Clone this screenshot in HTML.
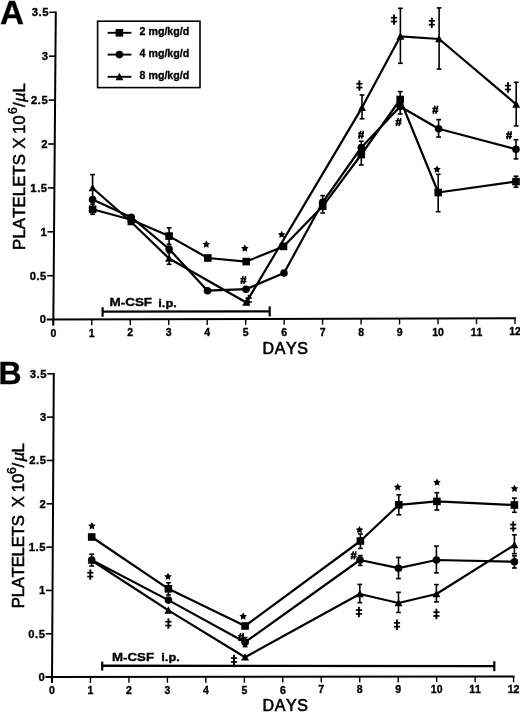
<!DOCTYPE html>
<html><head><meta charset="utf-8"><style>
html,body{margin:0;padding:0;background:#fff;width:520px;height:713px;overflow:hidden;}
svg text{font-family:"Liberation Sans", sans-serif;fill:#000;font-kerning:none;stroke:#000;stroke-width:0.35px;}
svg{filter:grayscale(1);}
</style></head><body>
<svg width="520" height="713" viewBox="0 0 520 713" style="position:absolute;left:0;top:0" font-family='"Liberation Sans", sans-serif'>
<rect width="520" height="713" fill="#fff"/>
<text x="0.1" y="23.7" font-size="33.2" font-weight="bold">A</text>
<line x1="53.3" y1="325.6" x2="55.8" y2="11.4" stroke="#000" stroke-width="2.0"/>
<line x1="46.8" y1="319.6" x2="515.9" y2="318.3" stroke="#000" stroke-width="2.0"/>
<text x="46.50" y="323.40" font-size="11.3" font-weight="bold" letter-spacing="0.5" text-anchor="end">0</text>
<line x1="47.16" y1="275.70" x2="53.66" y2="275.70" stroke="#000" stroke-width="1.6"/>
<text x="46.86" y="279.50" font-size="11.3" font-weight="bold" letter-spacing="0.5" text-anchor="end">0.5</text>
<line x1="47.51" y1="231.80" x2="54.01" y2="231.80" stroke="#000" stroke-width="1.6"/>
<text x="47.21" y="235.60" font-size="11.3" font-weight="bold" letter-spacing="0.5" text-anchor="end">1</text>
<line x1="47.87" y1="187.90" x2="54.37" y2="187.90" stroke="#000" stroke-width="1.6"/>
<text x="47.57" y="191.70" font-size="11.3" font-weight="bold" letter-spacing="0.5" text-anchor="end">1.5</text>
<line x1="48.23" y1="144.00" x2="54.73" y2="144.00" stroke="#000" stroke-width="1.6"/>
<text x="47.93" y="147.80" font-size="11.3" font-weight="bold" letter-spacing="0.5" text-anchor="end">2</text>
<line x1="48.59" y1="100.10" x2="55.09" y2="100.10" stroke="#000" stroke-width="1.6"/>
<text x="48.29" y="103.90" font-size="11.3" font-weight="bold" letter-spacing="0.5" text-anchor="end">2.5</text>
<line x1="48.94" y1="56.20" x2="55.44" y2="56.20" stroke="#000" stroke-width="1.6"/>
<text x="48.64" y="60.00" font-size="11.3" font-weight="bold" letter-spacing="0.5" text-anchor="end">3</text>
<line x1="49.30" y1="12.30" x2="55.80" y2="12.30" stroke="#000" stroke-width="1.6"/>
<text x="49.00" y="16.10" font-size="11.3" font-weight="bold" letter-spacing="0.5" text-anchor="end">3.5</text>
<line x1="53.30" y1="319.60" x2="53.30" y2="325.40" stroke="#000" stroke-width="1.4"/>
<text x="53.30" y="336.70" font-size="10.5" font-weight="bold" text-anchor="middle">0</text>
<line x1="91.77" y1="319.49" x2="91.77" y2="325.29" stroke="#000" stroke-width="1.4"/>
<text x="91.77" y="336.59" font-size="10.5" font-weight="bold" text-anchor="middle">1</text>
<line x1="130.25" y1="319.38" x2="130.25" y2="325.18" stroke="#000" stroke-width="1.4"/>
<text x="130.25" y="336.48" font-size="10.5" font-weight="bold" text-anchor="middle">2</text>
<line x1="168.72" y1="319.28" x2="168.72" y2="325.08" stroke="#000" stroke-width="1.4"/>
<text x="168.72" y="336.38" font-size="10.5" font-weight="bold" text-anchor="middle">3</text>
<line x1="207.20" y1="319.17" x2="207.20" y2="324.97" stroke="#000" stroke-width="1.4"/>
<text x="207.20" y="336.27" font-size="10.5" font-weight="bold" text-anchor="middle">4</text>
<line x1="245.68" y1="319.06" x2="245.68" y2="324.86" stroke="#000" stroke-width="1.4"/>
<text x="245.68" y="336.16" font-size="10.5" font-weight="bold" text-anchor="middle">5</text>
<line x1="284.15" y1="318.95" x2="284.15" y2="324.75" stroke="#000" stroke-width="1.4"/>
<text x="284.15" y="336.05" font-size="10.5" font-weight="bold" text-anchor="middle">6</text>
<line x1="322.62" y1="318.84" x2="322.62" y2="324.64" stroke="#000" stroke-width="1.4"/>
<text x="322.62" y="335.94" font-size="10.5" font-weight="bold" text-anchor="middle">7</text>
<line x1="361.10" y1="318.73" x2="361.10" y2="324.53" stroke="#000" stroke-width="1.4"/>
<text x="361.10" y="335.83" font-size="10.5" font-weight="bold" text-anchor="middle">8</text>
<line x1="399.57" y1="318.62" x2="399.57" y2="324.43" stroke="#000" stroke-width="1.4"/>
<text x="399.57" y="335.72" font-size="10.5" font-weight="bold" text-anchor="middle">9</text>
<line x1="438.05" y1="318.52" x2="438.05" y2="324.32" stroke="#000" stroke-width="1.4"/>
<text x="438.05" y="335.62" font-size="10.5" font-weight="bold" text-anchor="middle">10</text>
<line x1="476.52" y1="318.41" x2="476.52" y2="324.21" stroke="#000" stroke-width="1.4"/>
<text x="476.52" y="335.51" font-size="10.5" font-weight="bold" text-anchor="middle">11</text>
<line x1="515.00" y1="318.30" x2="515.00" y2="324.10" stroke="#000" stroke-width="1.4"/>
<text x="515.00" y="335.40" font-size="10.5" font-weight="bold" text-anchor="middle">12</text>
<text x="285.5" y="353.5" font-size="16" letter-spacing="0.6" text-anchor="middle" style="stroke-width:0.6px">DAYS</text>
<text transform="translate(25.3,0) rotate(-90)" x="-249.90" y="0" font-size="16.8" letter-spacing="0.1" style="stroke-width:0.5px">PLATELETS</text>
<text transform="translate(25.3,0) rotate(-90)" x="-148.80" y="0" font-size="16.8"  style="stroke-width:0.5px">X</text>
<text transform="translate(25.3,0) rotate(-90)" x="-134.00" y="0" font-size="16.8"  style="stroke-width:0.5px">10</text>
<text transform="translate(25.3,0) rotate(-90)" x="-113.90" y="-8.0" font-size="12"  style="stroke-width:0.5px">6</text>
<text transform="translate(25.3,0) rotate(-90)" x="-107.00" y="0" font-size="16.8"  style="stroke-width:0.5px">/</text>
<text transform="translate(25.3,0) rotate(-90)" x="-102.00" y="0" font-size="16.8" font-style="italic" style="stroke-width:0.5px">µ</text>
<text transform="translate(25.3,0) rotate(-90)" x="-92.60" y="0" font-size="16.8"  style="stroke-width:0.5px">L</text>
<rect x="97.6" y="21.2" width="102.4" height="66.4" fill="none" stroke="#000" stroke-width="1.6"/>
<line x1="107.6" y1="32.8" x2="131.4" y2="32.8" stroke="#000" stroke-width="1.9"/>
<rect x="115.60" y="29.00" width="7.6" height="7.6" fill="#000"/>
<text x="139.6" y="35.4" font-size="10.6" font-weight="bold" textLength="49.6" lengthAdjust="spacingAndGlyphs">2 mg/kg/d</text>
<line x1="107.6" y1="54.6" x2="131.4" y2="54.6" stroke="#000" stroke-width="1.9"/>
<circle cx="119.4" cy="54.6" r="3.8" fill="#000"/>
<text x="139.6" y="56.8" font-size="10.6" font-weight="bold" textLength="49.6" lengthAdjust="spacingAndGlyphs">4 mg/kg/d</text>
<line x1="107.6" y1="76.8" x2="131.4" y2="76.8" stroke="#000" stroke-width="1.9"/>
<polygon points="119.4,72.73 115.40,80.13 123.40,80.13" fill="#000"/>
<text x="139.6" y="79.3" font-size="10.6" font-weight="bold" textLength="49.6" lengthAdjust="spacingAndGlyphs">8 mg/kg/d</text>
<line x1="102.6" y1="311.6" x2="269.7" y2="311.4" stroke="#000" stroke-width="2.4"/>
<line x1="102.6" y1="307.2" x2="102.6" y2="316.8" stroke="#000" stroke-width="2.2"/>
<line x1="269.7" y1="306.4" x2="269.7" y2="316.4" stroke="#000" stroke-width="2.2"/>
<text x="109.5" y="306.4" font-size="11.6" font-weight="bold" textLength="42.6" lengthAdjust="spacingAndGlyphs">M-CSF</text>
<text x="158.3" y="306.6" font-size="11.6" font-weight="bold" textLength="18.6" lengthAdjust="spacingAndGlyphs">i.p.</text>
<polyline fill="none" stroke="#000" stroke-width="2.2" stroke-linejoin="round" points="92.6,209.3 131.2,219.8 169.1,236.1 207.8,258 246.2,261.6 283.5,246.4 322.7,206.3 361.3,154.5 400.2,99.5 438.2,192.5 516,181.6"/>
<polyline fill="none" stroke="#000" stroke-width="2.2" stroke-linejoin="round" points="92.6,199.5 131.2,217.2 169.1,249 207.5,290.7 246,289.2 284,273 322.7,202.3 361.3,147.5 400.2,106.5 438.6,128.7 516,149.3"/>
<polyline fill="none" stroke="#000" stroke-width="2.2" stroke-linejoin="round" points="92.6,188 131.2,222 169.1,258.5 246.2,302.5 362.0,107.6 400.4,36.3 439.1,39 516.2,104.3"/>
<line x1="92.6" y1="174.6" x2="92.6" y2="201.4" stroke="#000" stroke-width="1.6"/><line x1="90.19999999999999" y1="174.6" x2="95.0" y2="174.6" stroke="#000" stroke-width="1.6"/><line x1="90.19999999999999" y1="201.4" x2="95.0" y2="201.4" stroke="#000" stroke-width="1.6"/>
<line x1="92.6" y1="204" x2="92.6" y2="214.3" stroke="#000" stroke-width="1.6"/><line x1="90.19999999999999" y1="204" x2="95.0" y2="204" stroke="#000" stroke-width="1.6"/><line x1="90.19999999999999" y1="214.3" x2="95.0" y2="214.3" stroke="#000" stroke-width="1.6"/>
<line x1="169.1" y1="227.8" x2="169.1" y2="244.4" stroke="#000" stroke-width="1.6"/><line x1="166.7" y1="227.8" x2="171.5" y2="227.8" stroke="#000" stroke-width="1.6"/><line x1="166.7" y1="244.4" x2="171.5" y2="244.4" stroke="#000" stroke-width="1.6"/>
<line x1="169.1" y1="252.7" x2="169.1" y2="264.3" stroke="#000" stroke-width="1.6"/><line x1="166.7" y1="252.7" x2="171.5" y2="252.7" stroke="#000" stroke-width="1.6"/><line x1="166.7" y1="264.3" x2="171.5" y2="264.3" stroke="#000" stroke-width="1.6"/>
<line x1="322.7" y1="195.6" x2="322.7" y2="213" stroke="#000" stroke-width="1.6"/><line x1="320.3" y1="195.6" x2="325.09999999999997" y2="195.6" stroke="#000" stroke-width="1.6"/><line x1="320.3" y1="213" x2="325.09999999999997" y2="213" stroke="#000" stroke-width="1.6"/>
<line x1="361.3" y1="141.2" x2="361.3" y2="165" stroke="#000" stroke-width="1.6"/><line x1="358.90000000000003" y1="141.2" x2="363.7" y2="141.2" stroke="#000" stroke-width="1.6"/><line x1="358.90000000000003" y1="165" x2="363.7" y2="165" stroke="#000" stroke-width="1.6"/>
<line x1="362.0" y1="95.0" x2="362.0" y2="118.8" stroke="#000" stroke-width="1.6"/><line x1="359.6" y1="95.0" x2="364.4" y2="95.0" stroke="#000" stroke-width="1.6"/><line x1="359.6" y1="118.8" x2="364.4" y2="118.8" stroke="#000" stroke-width="1.6"/>
<line x1="400.2" y1="91.6" x2="400.2" y2="114" stroke="#000" stroke-width="1.6"/><line x1="397.8" y1="91.6" x2="402.59999999999997" y2="91.6" stroke="#000" stroke-width="1.6"/><line x1="397.8" y1="114" x2="402.59999999999997" y2="114" stroke="#000" stroke-width="1.6"/>
<line x1="400.4" y1="8.3" x2="400.4" y2="63.3" stroke="#000" stroke-width="1.6"/><line x1="398.0" y1="8.3" x2="402.79999999999995" y2="8.3" stroke="#000" stroke-width="1.6"/><line x1="398.0" y1="63.3" x2="402.79999999999995" y2="63.3" stroke="#000" stroke-width="1.6"/>
<line x1="439.1" y1="7.9" x2="439.1" y2="69.1" stroke="#000" stroke-width="1.6"/><line x1="436.70000000000005" y1="7.9" x2="441.5" y2="7.9" stroke="#000" stroke-width="1.6"/><line x1="436.70000000000005" y1="69.1" x2="441.5" y2="69.1" stroke="#000" stroke-width="1.6"/>
<line x1="438.6" y1="119.6" x2="438.6" y2="137" stroke="#000" stroke-width="1.6"/><line x1="436.20000000000005" y1="119.6" x2="441.0" y2="119.6" stroke="#000" stroke-width="1.6"/><line x1="436.20000000000005" y1="137" x2="441.0" y2="137" stroke="#000" stroke-width="1.6"/>
<line x1="438.2" y1="174.3" x2="438.2" y2="211.7" stroke="#000" stroke-width="1.6"/><line x1="435.8" y1="174.3" x2="440.59999999999997" y2="174.3" stroke="#000" stroke-width="1.6"/><line x1="435.8" y1="211.7" x2="440.59999999999997" y2="211.7" stroke="#000" stroke-width="1.6"/>
<line x1="516.2" y1="82.3" x2="516.2" y2="125.9" stroke="#000" stroke-width="1.6"/><line x1="513.8000000000001" y1="82.3" x2="518.6" y2="82.3" stroke="#000" stroke-width="1.6"/><line x1="513.8000000000001" y1="125.9" x2="518.6" y2="125.9" stroke="#000" stroke-width="1.6"/>
<line x1="516" y1="139.7" x2="516" y2="158.9" stroke="#000" stroke-width="1.6"/><line x1="513.6" y1="139.7" x2="518.4" y2="139.7" stroke="#000" stroke-width="1.6"/><line x1="513.6" y1="158.9" x2="518.4" y2="158.9" stroke="#000" stroke-width="1.6"/>
<line x1="516" y1="176.2" x2="516" y2="187.2" stroke="#000" stroke-width="1.6"/><line x1="513.6" y1="176.2" x2="518.4" y2="176.2" stroke="#000" stroke-width="1.6"/><line x1="513.6" y1="187.2" x2="518.4" y2="187.2" stroke="#000" stroke-width="1.6"/>
<rect x="88.80" y="205.50" width="7.6" height="7.6" fill="#000"/>
<rect x="127.40" y="216.00" width="7.6" height="7.6" fill="#000"/>
<rect x="165.30" y="232.30" width="7.6" height="7.6" fill="#000"/>
<rect x="204.00" y="254.20" width="7.6" height="7.6" fill="#000"/>
<rect x="242.40" y="257.80" width="7.6" height="7.6" fill="#000"/>
<rect x="279.70" y="242.60" width="7.6" height="7.6" fill="#000"/>
<rect x="318.90" y="202.50" width="7.6" height="7.6" fill="#000"/>
<rect x="357.50" y="150.70" width="7.6" height="7.6" fill="#000"/>
<rect x="396.40" y="95.70" width="7.6" height="7.6" fill="#000"/>
<rect x="434.40" y="188.70" width="7.6" height="7.6" fill="#000"/>
<rect x="512.20" y="177.80" width="7.6" height="7.6" fill="#000"/>
<circle cx="92.6" cy="199.5" r="3.8" fill="#000"/>
<circle cx="131.2" cy="217.2" r="3.8" fill="#000"/>
<circle cx="169.1" cy="249" r="3.8" fill="#000"/>
<circle cx="207.5" cy="290.7" r="3.8" fill="#000"/>
<circle cx="246" cy="289.2" r="3.8" fill="#000"/>
<circle cx="284" cy="273" r="3.8" fill="#000"/>
<circle cx="322.7" cy="202.3" r="3.8" fill="#000"/>
<circle cx="361.3" cy="147.5" r="3.8" fill="#000"/>
<circle cx="400.2" cy="106.5" r="3.8" fill="#000"/>
<circle cx="438.6" cy="128.7" r="3.8" fill="#000"/>
<circle cx="516" cy="149.3" r="3.8" fill="#000"/>
<polygon points="92.6,183.93 88.60,191.33 96.60,191.33" fill="#000"/>
<polygon points="131.2,217.93 127.20,225.33 135.20,225.33" fill="#000"/>
<polygon points="169.1,254.43 165.10,261.83 173.10,261.83" fill="#000"/>
<polygon points="246.2,298.43 242.20,305.83 250.20,305.83" fill="#000"/>
<polygon points="362.0,103.53 358.00,110.93 366.00,110.93" fill="#000"/>
<polygon points="400.4,32.23 396.40,39.63 404.40,39.63" fill="#000"/>
<polygon points="439.1,34.93 435.10,42.33 443.10,42.33" fill="#000"/>
<polygon points="516.2,100.23 512.20,107.63 520.20,107.63" fill="#000"/>
<polygon points="206.30,240.40 207.50,242.74 210.10,243.16 208.25,245.03 208.65,247.64 206.30,246.45 203.95,247.64 204.35,245.03 202.50,243.16 205.10,242.74" fill="#000"/>
<polygon points="244.80,244.40 246.00,246.74 248.60,247.16 246.75,249.03 247.15,251.64 244.80,250.45 242.45,251.64 242.85,249.03 241.00,247.16 243.60,246.74" fill="#000"/>
<polygon points="281.70,230.70 282.90,233.04 285.50,233.46 283.65,235.33 284.05,237.94 281.70,236.75 279.35,237.94 279.75,235.33 277.90,233.46 280.50,233.04" fill="#000"/>
<polygon points="437.00,165.40 438.20,167.74 440.80,168.16 438.95,170.03 439.35,172.64 437.00,171.45 434.65,172.64 435.05,170.03 433.20,168.16 435.80,167.74" fill="#000"/>
<line x1="243.10" y1="276.00" x2="241.30" y2="284.00" stroke="#000" stroke-width="1.6"/><line x1="245.70" y1="276.00" x2="243.90" y2="284.00" stroke="#000" stroke-width="1.6"/><line x1="240.40" y1="278.70" x2="246.40" y2="278.70" stroke="#000" stroke-width="1.5"/><line x1="240.40" y1="281.50" x2="246.40" y2="281.50" stroke="#000" stroke-width="1.5"/>
<line x1="360.70" y1="130.70" x2="358.90" y2="138.70" stroke="#000" stroke-width="1.6"/><line x1="363.30" y1="130.70" x2="361.50" y2="138.70" stroke="#000" stroke-width="1.6"/><line x1="358.00" y1="133.40" x2="364.00" y2="133.40" stroke="#000" stroke-width="1.5"/><line x1="358.00" y1="136.20" x2="364.00" y2="136.20" stroke="#000" stroke-width="1.5"/>
<line x1="398.20" y1="118.00" x2="396.40" y2="126.00" stroke="#000" stroke-width="1.6"/><line x1="400.80" y1="118.00" x2="399.00" y2="126.00" stroke="#000" stroke-width="1.6"/><line x1="395.50" y1="120.70" x2="401.50" y2="120.70" stroke="#000" stroke-width="1.5"/><line x1="395.50" y1="123.50" x2="401.50" y2="123.50" stroke="#000" stroke-width="1.5"/>
<line x1="435.00" y1="105.80" x2="433.20" y2="113.80" stroke="#000" stroke-width="1.6"/><line x1="437.60" y1="105.80" x2="435.80" y2="113.80" stroke="#000" stroke-width="1.6"/><line x1="432.30" y1="108.50" x2="438.30" y2="108.50" stroke="#000" stroke-width="1.5"/><line x1="432.30" y1="111.30" x2="438.30" y2="111.30" stroke="#000" stroke-width="1.5"/>
<line x1="508.70" y1="131.30" x2="506.90" y2="139.30" stroke="#000" stroke-width="1.6"/><line x1="511.30" y1="131.30" x2="509.50" y2="139.30" stroke="#000" stroke-width="1.6"/><line x1="506.00" y1="134.00" x2="512.00" y2="134.00" stroke="#000" stroke-width="1.5"/><line x1="506.00" y1="136.80" x2="512.00" y2="136.80" stroke="#000" stroke-width="1.5"/>
<line x1="359.4" y1="80.39999999999999" x2="359.4" y2="90.8" stroke="#000" stroke-width="1.9"/><line x1="356.29999999999995" y1="83.73" x2="362.5" y2="83.73" stroke="#000" stroke-width="1.7"/><line x1="356.29999999999995" y1="87.58" x2="362.5" y2="87.58" stroke="#000" stroke-width="1.7"/>
<line x1="394" y1="14.400000000000002" x2="394" y2="24.8" stroke="#000" stroke-width="1.9"/><line x1="390.9" y1="17.73" x2="397.1" y2="17.73" stroke="#000" stroke-width="1.7"/><line x1="390.9" y1="21.58" x2="397.1" y2="21.58" stroke="#000" stroke-width="1.7"/>
<line x1="431.8" y1="17.5" x2="431.8" y2="27.9" stroke="#000" stroke-width="1.9"/><line x1="428.7" y1="20.83" x2="434.90000000000003" y2="20.83" stroke="#000" stroke-width="1.7"/><line x1="428.7" y1="24.68" x2="434.90000000000003" y2="24.68" stroke="#000" stroke-width="1.7"/>
<line x1="508" y1="82.3" x2="508" y2="92.7" stroke="#000" stroke-width="1.9"/><line x1="504.9" y1="85.63" x2="511.1" y2="85.63" stroke="#000" stroke-width="1.7"/><line x1="504.9" y1="89.48" x2="511.1" y2="89.48" stroke="#000" stroke-width="1.7"/>
<line x1="248.6" y1="294.8" x2="248.6" y2="305.2" stroke="#000" stroke-width="1.9"/><line x1="245.5" y1="298.13" x2="251.7" y2="298.13" stroke="#000" stroke-width="1.7"/><line x1="245.5" y1="301.98" x2="251.7" y2="301.98" stroke="#000" stroke-width="1.7"/>
<text x="-1.4" y="384.3" font-size="32" font-weight="bold">B</text>
<line x1="52.0" y1="683.1" x2="53.8" y2="372.90000000000003" stroke="#000" stroke-width="2.0"/>
<line x1="45.5" y1="677.1" x2="514.5" y2="676.4" stroke="#000" stroke-width="2.0"/>
<text x="45.20" y="680.90" font-size="11.3" font-weight="bold" letter-spacing="0.5" text-anchor="end">0</text>
<line x1="45.76" y1="633.77" x2="52.26" y2="633.77" stroke="#000" stroke-width="1.6"/>
<text x="45.46" y="637.57" font-size="11.3" font-weight="bold" letter-spacing="0.5" text-anchor="end">0.5</text>
<line x1="46.01" y1="590.44" x2="52.51" y2="590.44" stroke="#000" stroke-width="1.6"/>
<text x="45.71" y="594.24" font-size="11.3" font-weight="bold" letter-spacing="0.5" text-anchor="end">1</text>
<line x1="46.27" y1="547.11" x2="52.77" y2="547.11" stroke="#000" stroke-width="1.6"/>
<text x="45.97" y="550.91" font-size="11.3" font-weight="bold" letter-spacing="0.5" text-anchor="end">1.5</text>
<line x1="46.53" y1="503.79" x2="53.03" y2="503.79" stroke="#000" stroke-width="1.6"/>
<text x="46.23" y="507.59" font-size="11.3" font-weight="bold" letter-spacing="0.5" text-anchor="end">2</text>
<line x1="46.79" y1="460.46" x2="53.29" y2="460.46" stroke="#000" stroke-width="1.6"/>
<text x="46.49" y="464.26" font-size="11.3" font-weight="bold" letter-spacing="0.5" text-anchor="end">2.5</text>
<line x1="47.04" y1="417.13" x2="53.54" y2="417.13" stroke="#000" stroke-width="1.6"/>
<text x="46.74" y="420.93" font-size="11.3" font-weight="bold" letter-spacing="0.5" text-anchor="end">3</text>
<line x1="47.30" y1="373.80" x2="53.80" y2="373.80" stroke="#000" stroke-width="1.6"/>
<text x="47.00" y="377.60" font-size="11.3" font-weight="bold" letter-spacing="0.5" text-anchor="end">3.5</text>
<line x1="52.00" y1="677.10" x2="52.00" y2="682.90" stroke="#000" stroke-width="1.4"/>
<text x="52.00" y="693.90" font-size="10.5" font-weight="bold" text-anchor="middle">0</text>
<line x1="90.47" y1="677.04" x2="90.47" y2="682.84" stroke="#000" stroke-width="1.4"/>
<text x="90.47" y="693.84" font-size="10.5" font-weight="bold" text-anchor="middle">1</text>
<line x1="128.93" y1="676.98" x2="128.93" y2="682.78" stroke="#000" stroke-width="1.4"/>
<text x="128.93" y="693.78" font-size="10.5" font-weight="bold" text-anchor="middle">2</text>
<line x1="167.40" y1="676.92" x2="167.40" y2="682.72" stroke="#000" stroke-width="1.4"/>
<text x="167.40" y="693.72" font-size="10.5" font-weight="bold" text-anchor="middle">3</text>
<line x1="205.87" y1="676.87" x2="205.87" y2="682.67" stroke="#000" stroke-width="1.4"/>
<text x="205.87" y="693.67" font-size="10.5" font-weight="bold" text-anchor="middle">4</text>
<line x1="244.33" y1="676.81" x2="244.33" y2="682.61" stroke="#000" stroke-width="1.4"/>
<text x="244.33" y="693.61" font-size="10.5" font-weight="bold" text-anchor="middle">5</text>
<line x1="282.80" y1="676.75" x2="282.80" y2="682.55" stroke="#000" stroke-width="1.4"/>
<text x="282.80" y="693.55" font-size="10.5" font-weight="bold" text-anchor="middle">6</text>
<line x1="321.27" y1="676.69" x2="321.27" y2="682.49" stroke="#000" stroke-width="1.4"/>
<text x="321.27" y="693.49" font-size="10.5" font-weight="bold" text-anchor="middle">7</text>
<line x1="359.73" y1="676.63" x2="359.73" y2="682.43" stroke="#000" stroke-width="1.4"/>
<text x="359.73" y="693.43" font-size="10.5" font-weight="bold" text-anchor="middle">8</text>
<line x1="398.20" y1="676.58" x2="398.20" y2="682.38" stroke="#000" stroke-width="1.4"/>
<text x="398.20" y="693.38" font-size="10.5" font-weight="bold" text-anchor="middle">9</text>
<line x1="436.67" y1="676.52" x2="436.67" y2="682.32" stroke="#000" stroke-width="1.4"/>
<text x="436.67" y="693.32" font-size="10.5" font-weight="bold" text-anchor="middle">10</text>
<line x1="475.13" y1="676.46" x2="475.13" y2="682.26" stroke="#000" stroke-width="1.4"/>
<text x="475.13" y="693.26" font-size="10.5" font-weight="bold" text-anchor="middle">11</text>
<line x1="513.60" y1="676.40" x2="513.60" y2="682.20" stroke="#000" stroke-width="1.4"/>
<text x="513.60" y="693.20" font-size="10.5" font-weight="bold" text-anchor="middle">12</text>
<text x="285.5" y="710.5" font-size="16" letter-spacing="0.6" text-anchor="middle" style="stroke-width:0.6px">DAYS</text>
<text transform="translate(24.0,0) rotate(-90)" x="-608.30" y="0" font-size="16.8" letter-spacing="-0.25" style="stroke-width:0.5px">PLATELETS</text>
<text transform="translate(24.0,0) rotate(-90)" x="-507.30" y="0" font-size="16.8"  style="stroke-width:0.5px">X</text>
<text transform="translate(24.0,0) rotate(-90)" x="-492.30" y="0" font-size="16.8"  style="stroke-width:0.5px">10</text>
<text transform="translate(24.0,0) rotate(-90)" x="-474.00" y="-8.0" font-size="12"  style="stroke-width:0.5px">6</text>
<text transform="translate(24.0,0) rotate(-90)" x="-467.50" y="0" font-size="16.8"  style="stroke-width:0.5px">/</text>
<text transform="translate(24.0,0) rotate(-90)" x="-461.50" y="0" font-size="16.8" font-style="italic" style="stroke-width:0.5px">µ</text>
<text transform="translate(24.0,0) rotate(-90)" x="-452.60" y="0" font-size="16.8"  style="stroke-width:0.5px">L</text>
<line x1="102.2" y1="665.8" x2="494.3" y2="666.1" stroke="#000" stroke-width="2.4"/>
<line x1="102.2" y1="661.6" x2="102.2" y2="670.6" stroke="#000" stroke-width="2.2"/>
<line x1="494.3" y1="661.2" x2="494.3" y2="671.2" stroke="#000" stroke-width="2.2"/>
<text x="112.0" y="661.2" font-size="11.6" font-weight="bold" textLength="42.0" lengthAdjust="spacingAndGlyphs">M-CSF</text>
<text x="161.3" y="661.4" font-size="11.6" font-weight="bold" textLength="18.6" lengthAdjust="spacingAndGlyphs">i.p.</text>
<polyline fill="none" stroke="#000" stroke-width="2.2" stroke-linejoin="round" points="91.7,537 168.4,588.8 245.1,626 360.4,541 398.8,504.8 436.9,501.4 514.4,505"/>
<polyline fill="none" stroke="#000" stroke-width="2.2" stroke-linejoin="round" points="91.7,560 168.4,600.1 245.1,642.2 360,560 398.5,568.2 436.4,560 514.4,561.7"/>
<polyline fill="none" stroke="#000" stroke-width="2.2" stroke-linejoin="round" points="91.7,560.5 168.4,610.4 245.1,657.2 359.8,594 398.5,603 436.4,594 514.4,545"/>
<line x1="91.7" y1="554.2" x2="91.7" y2="566" stroke="#000" stroke-width="1.6"/><line x1="89.3" y1="554.2" x2="94.10000000000001" y2="554.2" stroke="#000" stroke-width="1.6"/><line x1="89.3" y1="566" x2="94.10000000000001" y2="566" stroke="#000" stroke-width="1.6"/>
<line x1="245.1" y1="637.6" x2="245.1" y2="646.6" stroke="#000" stroke-width="1.6"/><line x1="242.7" y1="637.6" x2="247.5" y2="637.6" stroke="#000" stroke-width="1.6"/><line x1="242.7" y1="646.6" x2="247.5" y2="646.6" stroke="#000" stroke-width="1.6"/>
<line x1="360.2" y1="555.6" x2="360.2" y2="565.4" stroke="#000" stroke-width="1.6"/><line x1="357.8" y1="555.6" x2="362.59999999999997" y2="555.6" stroke="#000" stroke-width="1.6"/><line x1="357.8" y1="565.4" x2="362.59999999999997" y2="565.4" stroke="#000" stroke-width="1.6"/>
<line x1="168.4" y1="582.7" x2="168.4" y2="595" stroke="#000" stroke-width="1.6"/><line x1="166.0" y1="582.7" x2="170.8" y2="582.7" stroke="#000" stroke-width="1.6"/><line x1="166.0" y1="595" x2="170.8" y2="595" stroke="#000" stroke-width="1.6"/>
<line x1="360.4" y1="534" x2="360.4" y2="548.4" stroke="#000" stroke-width="1.6"/><line x1="358.0" y1="534" x2="362.79999999999995" y2="534" stroke="#000" stroke-width="1.6"/><line x1="358.0" y1="548.4" x2="362.79999999999995" y2="548.4" stroke="#000" stroke-width="1.6"/>
<line x1="398.8" y1="494.8" x2="398.8" y2="514.8" stroke="#000" stroke-width="1.6"/><line x1="396.40000000000003" y1="494.8" x2="401.2" y2="494.8" stroke="#000" stroke-width="1.6"/><line x1="396.40000000000003" y1="514.8" x2="401.2" y2="514.8" stroke="#000" stroke-width="1.6"/>
<line x1="436.9" y1="492.7" x2="436.9" y2="510" stroke="#000" stroke-width="1.6"/><line x1="434.5" y1="492.7" x2="439.29999999999995" y2="492.7" stroke="#000" stroke-width="1.6"/><line x1="434.5" y1="510" x2="439.29999999999995" y2="510" stroke="#000" stroke-width="1.6"/>
<line x1="514.4" y1="498.1" x2="514.4" y2="512.3" stroke="#000" stroke-width="1.6"/><line x1="512.0" y1="498.1" x2="516.8" y2="498.1" stroke="#000" stroke-width="1.6"/><line x1="512.0" y1="512.3" x2="516.8" y2="512.3" stroke="#000" stroke-width="1.6"/>
<line x1="398.5" y1="557.4" x2="398.5" y2="578.6" stroke="#000" stroke-width="1.6"/><line x1="396.1" y1="557.4" x2="400.9" y2="557.4" stroke="#000" stroke-width="1.6"/><line x1="396.1" y1="578.6" x2="400.9" y2="578.6" stroke="#000" stroke-width="1.6"/>
<line x1="436.4" y1="546.1" x2="436.4" y2="572.9" stroke="#000" stroke-width="1.6"/><line x1="434.0" y1="546.1" x2="438.79999999999995" y2="546.1" stroke="#000" stroke-width="1.6"/><line x1="434.0" y1="572.9" x2="438.79999999999995" y2="572.9" stroke="#000" stroke-width="1.6"/>
<line x1="514.4" y1="555.8" x2="514.4" y2="568" stroke="#000" stroke-width="1.6"/><line x1="512.0" y1="555.8" x2="516.8" y2="555.8" stroke="#000" stroke-width="1.6"/><line x1="512.0" y1="568" x2="516.8" y2="568" stroke="#000" stroke-width="1.6"/>
<line x1="359.8" y1="584.4" x2="359.8" y2="602.7" stroke="#000" stroke-width="1.6"/><line x1="357.40000000000003" y1="584.4" x2="362.2" y2="584.4" stroke="#000" stroke-width="1.6"/><line x1="357.40000000000003" y1="602.7" x2="362.2" y2="602.7" stroke="#000" stroke-width="1.6"/>
<line x1="398.5" y1="592.3" x2="398.5" y2="612.5" stroke="#000" stroke-width="1.6"/><line x1="396.1" y1="592.3" x2="400.9" y2="592.3" stroke="#000" stroke-width="1.6"/><line x1="396.1" y1="612.5" x2="400.9" y2="612.5" stroke="#000" stroke-width="1.6"/>
<line x1="436.4" y1="584.6" x2="436.4" y2="601.9" stroke="#000" stroke-width="1.6"/><line x1="434.0" y1="584.6" x2="438.79999999999995" y2="584.6" stroke="#000" stroke-width="1.6"/><line x1="434.0" y1="601.9" x2="438.79999999999995" y2="601.9" stroke="#000" stroke-width="1.6"/>
<line x1="514.4" y1="534.8" x2="514.4" y2="553.7" stroke="#000" stroke-width="1.6"/><line x1="512.0" y1="534.8" x2="516.8" y2="534.8" stroke="#000" stroke-width="1.6"/><line x1="512.0" y1="553.7" x2="516.8" y2="553.7" stroke="#000" stroke-width="1.6"/>
<rect x="87.90" y="533.20" width="7.6" height="7.6" fill="#000"/>
<rect x="164.60" y="585.00" width="7.6" height="7.6" fill="#000"/>
<rect x="241.30" y="622.20" width="7.6" height="7.6" fill="#000"/>
<rect x="356.60" y="537.20" width="7.6" height="7.6" fill="#000"/>
<rect x="395.00" y="501.00" width="7.6" height="7.6" fill="#000"/>
<rect x="433.10" y="497.60" width="7.6" height="7.6" fill="#000"/>
<rect x="510.60" y="501.20" width="7.6" height="7.6" fill="#000"/>
<circle cx="91.7" cy="560" r="3.8" fill="#000"/>
<circle cx="168.4" cy="600.1" r="3.8" fill="#000"/>
<circle cx="245.1" cy="642.2" r="3.8" fill="#000"/>
<circle cx="360" cy="560" r="3.8" fill="#000"/>
<circle cx="398.5" cy="568.2" r="3.8" fill="#000"/>
<circle cx="436.4" cy="560" r="3.8" fill="#000"/>
<circle cx="514.4" cy="561.7" r="3.8" fill="#000"/>
<polygon points="91.7,556.43 87.70,563.83 95.70,563.83" fill="#000"/>
<polygon points="168.4,606.33 164.40,613.73 172.40,613.73" fill="#000"/>
<polygon points="245.1,653.13 241.10,660.53 249.10,660.53" fill="#000"/>
<polygon points="359.8,589.93 355.80,597.33 363.80,597.33" fill="#000"/>
<polygon points="398.5,598.93 394.50,606.33 402.50,606.33" fill="#000"/>
<polygon points="436.4,589.93 432.40,597.33 440.40,597.33" fill="#000"/>
<polygon points="514.4,540.93 510.40,548.33 518.40,548.33" fill="#000"/>
<polygon points="91.90,522.10 93.10,524.44 95.70,524.86 93.85,526.73 94.25,529.34 91.90,528.15 89.55,529.34 89.95,526.73 88.10,524.86 90.70,524.44" fill="#000"/>
<polygon points="168.00,572.70 169.20,575.04 171.80,575.46 169.95,577.33 170.35,579.94 168.00,578.75 165.65,579.94 166.05,577.33 164.20,575.46 166.80,575.04" fill="#000"/>
<polygon points="243.20,612.40 244.40,614.74 247.00,615.16 245.15,617.03 245.55,619.64 243.20,618.45 240.85,619.64 241.25,617.03 239.40,615.16 242.00,614.74" fill="#000"/>
<polygon points="359.50,525.90 360.70,528.24 363.30,528.66 361.45,530.53 361.85,533.14 359.50,531.95 357.15,533.14 357.55,530.53 355.70,528.66 358.30,528.24" fill="#000"/>
<polygon points="397.70,483.20 398.90,485.54 401.50,485.96 399.65,487.83 400.05,490.44 397.70,489.25 395.35,490.44 395.75,487.83 393.90,485.96 396.50,485.54" fill="#000"/>
<polygon points="437.00,478.40 438.20,480.74 440.80,481.16 438.95,483.03 439.35,485.64 437.00,484.45 434.65,485.64 435.05,483.03 433.20,481.16 435.80,480.74" fill="#000"/>
<polygon points="514.50,484.70 515.70,487.04 518.30,487.46 516.45,489.33 516.85,491.94 514.50,490.75 512.15,491.94 512.55,489.33 510.70,487.46 513.30,487.04" fill="#000"/>
<line x1="240.70" y1="633.00" x2="238.90" y2="641.00" stroke="#000" stroke-width="1.6"/><line x1="243.30" y1="633.00" x2="241.50" y2="641.00" stroke="#000" stroke-width="1.6"/><line x1="238.00" y1="635.70" x2="244.00" y2="635.70" stroke="#000" stroke-width="1.5"/><line x1="238.00" y1="638.50" x2="244.00" y2="638.50" stroke="#000" stroke-width="1.5"/>
<line x1="353.30" y1="551.40" x2="351.50" y2="559.40" stroke="#000" stroke-width="1.6"/><line x1="355.90" y1="551.40" x2="354.10" y2="559.40" stroke="#000" stroke-width="1.6"/><line x1="350.60" y1="554.10" x2="356.60" y2="554.10" stroke="#000" stroke-width="1.5"/><line x1="350.60" y1="556.90" x2="356.60" y2="556.90" stroke="#000" stroke-width="1.5"/>
<line x1="90.3" y1="569.4" x2="90.3" y2="579.8000000000001" stroke="#000" stroke-width="1.9"/><line x1="87.2" y1="572.73" x2="93.39999999999999" y2="572.73" stroke="#000" stroke-width="1.7"/><line x1="87.2" y1="576.58" x2="93.39999999999999" y2="576.58" stroke="#000" stroke-width="1.7"/>
<line x1="168.4" y1="618.4" x2="168.4" y2="628.8000000000001" stroke="#000" stroke-width="1.9"/><line x1="165.3" y1="621.73" x2="171.5" y2="621.73" stroke="#000" stroke-width="1.7"/><line x1="165.3" y1="625.58" x2="171.5" y2="625.58" stroke="#000" stroke-width="1.7"/>
<line x1="234" y1="654.8" x2="234" y2="665.2" stroke="#000" stroke-width="1.9"/><line x1="230.9" y1="658.13" x2="237.1" y2="658.13" stroke="#000" stroke-width="1.7"/><line x1="230.9" y1="661.98" x2="237.1" y2="661.98" stroke="#000" stroke-width="1.7"/>
<line x1="358.9" y1="606.8" x2="358.9" y2="617.2" stroke="#000" stroke-width="1.9"/><line x1="355.79999999999995" y1="610.13" x2="362.0" y2="610.13" stroke="#000" stroke-width="1.7"/><line x1="355.79999999999995" y1="613.98" x2="362.0" y2="613.98" stroke="#000" stroke-width="1.7"/>
<line x1="397" y1="619.5" x2="397" y2="629.9000000000001" stroke="#000" stroke-width="1.9"/><line x1="393.9" y1="622.83" x2="400.1" y2="622.83" stroke="#000" stroke-width="1.7"/><line x1="393.9" y1="626.68" x2="400.1" y2="626.68" stroke="#000" stroke-width="1.7"/>
<line x1="436.4" y1="608.8" x2="436.4" y2="619.2" stroke="#000" stroke-width="1.9"/><line x1="433.29999999999995" y1="612.13" x2="439.5" y2="612.13" stroke="#000" stroke-width="1.7"/><line x1="433.29999999999995" y1="615.98" x2="439.5" y2="615.98" stroke="#000" stroke-width="1.7"/>
<line x1="513.2" y1="521.3" x2="513.2" y2="531.7" stroke="#000" stroke-width="1.9"/><line x1="510.1" y1="524.63" x2="516.3000000000001" y2="524.63" stroke="#000" stroke-width="1.7"/><line x1="510.1" y1="528.48" x2="516.3000000000001" y2="528.48" stroke="#000" stroke-width="1.7"/>
</svg>
</body></html>
